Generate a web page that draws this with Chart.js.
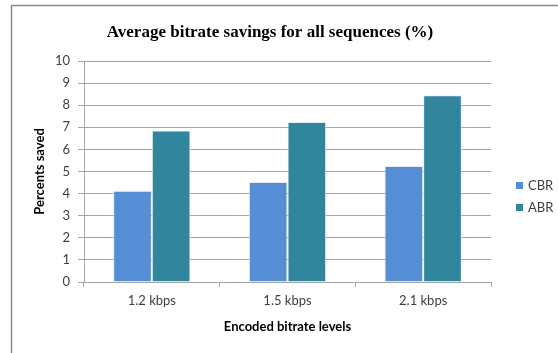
<!DOCTYPE html>
<html><head><meta charset="utf-8">
<script src="https://cdn.jsdelivr.net/npm/chart.js@4"></script>
<style>html,body{margin:0;padding:0;background:#fff}#wrap{width:558px;height:353px}</style>
</head><body><div id="wrap"><canvas id="c" width="558" height="353"></canvas></div>
<script>
const categories = ["1.2 kbps", "1.5 kbps", "2.1 kbps"];
const cbrValues = [4.13, 4.52, 5.25];
const abrValues = [6.86, 7.24, 8.45];
const seriesNames = ["CBR", "ABR"];
const seriesColors = ["#558ED5", "#31859C"];
const titleText = "Average bitrate savings for all sequences (%)";
const yTitle = "Percents saved";
const xTitle = "Encoded bitrate levels";

const framePlugin = {
  id: 'frame',
  beforeDraw(chart) {
    const ctx = chart.ctx;
    ctx.save();
    ctx.fillStyle = '#fff';
    ctx.fillRect(0, 0, chart.width, chart.height);
    ctx.strokeStyle = '#8a8a8a';
    ctx.lineWidth = 1.5;
    ctx.strokeRect(11.5, 5.5, chart.width + 10, chart.height + 10);
    ctx.restore();
  },
  afterDraw(chart) {
    const ctx = chart.ctx;
    ctx.save();
    ctx.font = 'bold 17px "Liberation Serif", "Times New Roman", serif';
    ctx.fillStyle = '#000';
    ctx.textAlign = 'center';
    ctx.textBaseline = 'middle';
    ctx.fillText(titleText, 270, 33);
    ctx.restore();
  }
};
const legendPlugin = {
  id: 'customLegend',
  afterDraw(chart) {
    const ctx = chart.ctx;
    ctx.save();
    ctx.font = '13px Lato, "Liberation Sans", sans-serif';
    ctx.textBaseline = 'middle';
    chart.data.datasets.forEach((ds, i) => {
      const y = 186 + i * 22;
      ctx.fillStyle = ds.backgroundColor;
      ctx.fillRect(516, y - 4, 7, 7);
      ctx.fillStyle = '#404040';
      ctx.fillText(ds.label, 528, y);
    });
    ctx.restore();
  }
};

new Chart(document.getElementById('c'), {
  type: 'bar',
  data: {
    labels: categories,
    datasets: [
      { label: seriesNames[0], data: cbrValues, backgroundColor: seriesColors[0], borderColor: 'rgba(220,232,242,0.8)', borderWidth: 1 },
      { label: seriesNames[1], data: abrValues, backgroundColor: seriesColors[1], borderColor: 'rgba(220,232,242,0.8)', borderWidth: 1 }
    ]
  },
  plugins: [framePlugin, legendPlugin],
  options: {
    responsive: false,
    animation: false,
    devicePixelRatio: 1,
    layout: { padding: { left: 28, right: 67, top: 61, bottom: 0 } },
    datasets: { bar: { categoryPercentage: 0.57, barPercentage: 1.0 } },
    plugins: {
      legend: { display: false },
      tooltip: { enabled: false },
      title: { display: false }
    },
    scales: {
      y: {
        min: 0, max: 10,
        ticks: { stepSize: 1, color: '#404040', padding: 8, font: { family: 'Lato, "Liberation Sans", sans-serif', size: 13 } },
        grid: { color: '#a6a6a6', tickLength: 6, lineWidth: 1 },
        border: { color: '#a6a6a6' },
        title: { display: true, text: yTitle, color: '#000', padding: { top: 4, bottom: 4 }, font: { family: 'Lato, "Liberation Sans", sans-serif', size: 13, weight: 'bold' } },
        afterFit(s) { s.width = 56; }
      },
      x: {
        ticks: { color: '#404040', padding: 6, font: { family: 'Lato, "Liberation Sans", sans-serif', size: 13 } },
        grid: { display: true, drawOnChartArea: false, drawTicks: true, tickLength: 5, color: '#a6a6a6', offset: true },
        border: { color: '#a6a6a6' },
        title: { display: true, text: xTitle, color: '#000', padding: { top: 4, bottom: 18 }, font: { family: 'Lato, "Liberation Sans", sans-serif', size: 13, weight: 'bold' } },
        afterFit(s) { s.height = 71; }
      }
    }
  }
});
</script></body></html>
